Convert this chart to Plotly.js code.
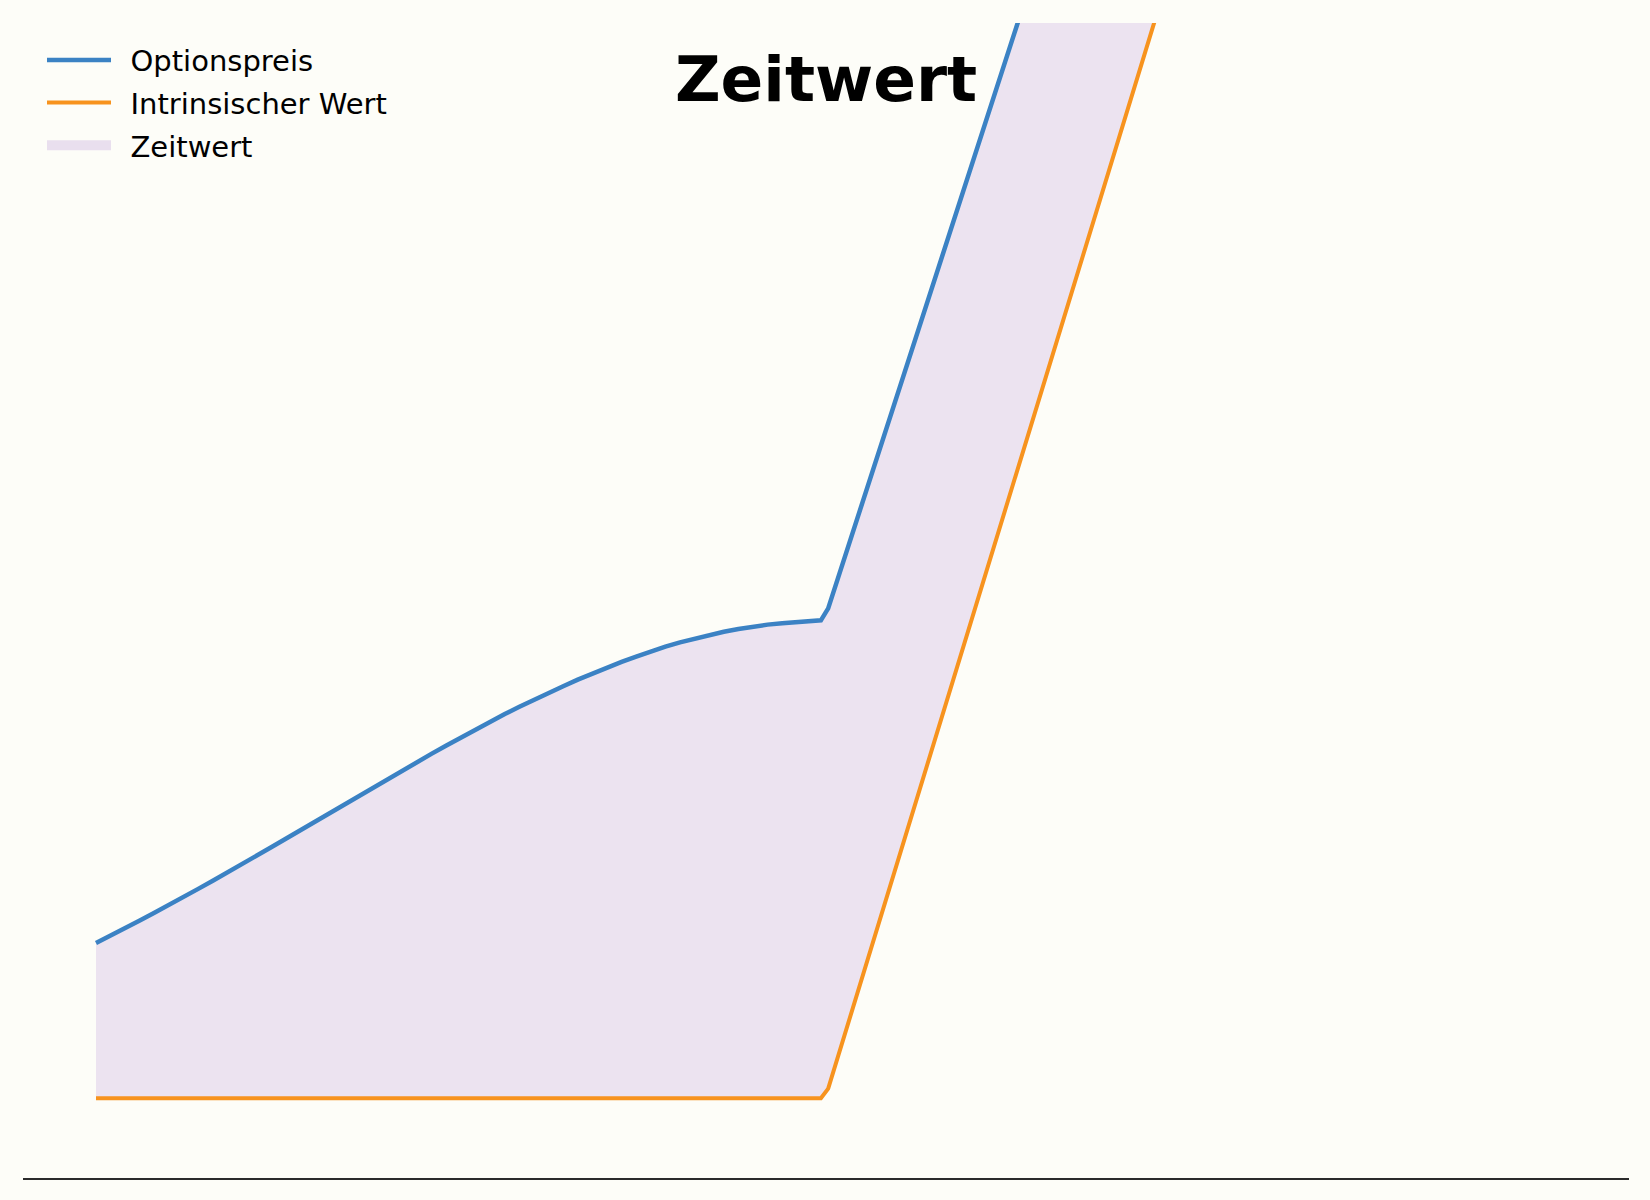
<!DOCTYPE html>
<html>
<head>
<meta charset="utf-8">
<script src="https://cdn.plot.ly/plotly-3.0.1.min.js"></script>
<style>
  html, body { margin: 0; padding: 0; background: #FDFDF8; }
  #chart { width: 1650px; height: 1200px; }
</style>
</head>
<body>
<div id="chart"></div>
<script>
// Kurs des Basiswerts (Strike bei 100)
const kurs = [50, 51, 52, 53, 54, 55, 56, 57, 58, 59, 60, 61, 62, 63, 64, 65, 66, 67,
  68, 69, 70, 71, 72, 73, 74, 75, 76, 77, 78, 79, 80, 81, 82, 83, 84, 85, 86, 87,
  88, 89, 90, 91, 92, 93, 94, 95, 96, 97, 98, 99, 99.65, 100.15, 150];
// Optionspreis
const optionspreis = [3.25, 3.40, 3.56, 3.72, 3.88, 4.04, 4.21, 4.38, 4.55, 4.72,
  4.90, 5.07, 5.25, 5.43, 5.61, 5.79, 5.97, 6.15, 6.33, 6.51, 6.69, 6.87, 7.04,
  7.21, 7.38, 7.55, 7.72, 7.88, 8.04, 8.19, 8.34, 8.48, 8.62, 8.76, 8.89, 9.01,
  9.13, 9.24, 9.35, 9.45, 9.54, 9.62, 9.69, 9.76, 9.82, 9.87, 9.91, 9.94, 9.97,
  9.99, 10.0, 10.25, 57.3];
// innerer Wert max(S - K, 0)
const intrinsisch = [0, 0, 0, 0, 0, 0, 0, 0, 0, 0, 0, 0, 0, 0, 0, 0, 0, 0,
  0, 0, 0, 0, 0, 0, 0, 0, 0, 0, 0, 0, 0, 0, 0, 0, 0, 0, 0, 0,
  0, 0, 0, 0, 0, 0, 0, 0, 0, 0, 0, 0, 0, 0.2, 50];

// Flaeche zwischen beiden Kurven als geschlossenes Polygon
const fillX = kurs.concat(kurs.slice().reverse());
const fillY = optionspreis.concat(intrinsisch.slice().reverse());

const zeitwert = {
  x: fillX,
  y: fillY,
  type: "scatter",
  mode: "lines",
  fill: "toself",
  fillcolor: "#ECE3F0",
  line: { color: "#E1D5EB", width: 1.5 },
  name: "Zeitwert",
  showlegend: false,
  hoverinfo: "skip",
};

// nur fuer den Legendeneintrag (breites Feld)
const zeitwertLegende = {
  x: [null],
  y: [null],
  type: "scatter",
  mode: "lines",
  line: { color: "#E9DFEE", width: 22 },
  name: "\u2002Zeitwert",
  legendrank: 3,
  legendgroup: "c",
};

const preisLinie = {
  x: kurs,
  y: optionspreis,
  type: "scatter",
  mode: "lines",
  line: { color: "#3B82C4", width: 4.5 },
  name: "\u2002Optionspreis",
  legendrank: 1,
  legendgroup: "a",
};

const innererLinie = {
  x: kurs,
  y: intrinsisch,
  type: "scatter",
  mode: "lines",
  line: { color: "#F7931E", width: 4 },
  name: "\u2002Intrinsischer Wert",
  legendrank: 2,
  legendgroup: "b",
};

const layout = {
  width: 1650,
  height: 1200,
  paper_bgcolor: "#FDFDF8",
  plot_bgcolor: "#FDFDF8",
  margin: { l: 23, r: 21, t: 23, b: 22 },
  font: { family: "DejaVu Sans", color: "#000" },
  title: {
    text: "Zeitwert",
    font: { family: "DejaVu Sans", size: 63, weight: "bold", color: "#000" },
    x: 0.5,
    xref: "paper",
    y: 1 - 79 / 1200,
    yref: "container",
    yanchor: "middle",
  },
  showlegend: true,
  legend: {
    x: (42 - 23) / 1606,
    y: 0.99,
    xanchor: "left",
    yanchor: "top",
    bgcolor: "rgba(0,0,0,0)",
    font: { family: "DejaVu Sans", size: 29, color: "#000" },
    traceorder: "grouped",
    tracegroupgap: 2,
    itemwidth: 64,
  },
  xaxis: {
    range: [45, 155],
    showgrid: false,
    zeroline: false,
    showticklabels: false,
    ticks: "",
    showline: true,
    linecolor: "#2B2B2B",
    linewidth: 2,
    fixedrange: true,
  },
  yaxis: {
    range: [-1.67, 22.5],
    visible: false,
    showgrid: false,
    zeroline: false,
    fixedrange: true,
  },
};

Plotly.newPlot("chart", [zeitwert, preisLinie, innererLinie, zeitwertLegende], layout, {
  displayModeBar: false,
  staticPlot: true,
});
</script>
</body>
</html>
